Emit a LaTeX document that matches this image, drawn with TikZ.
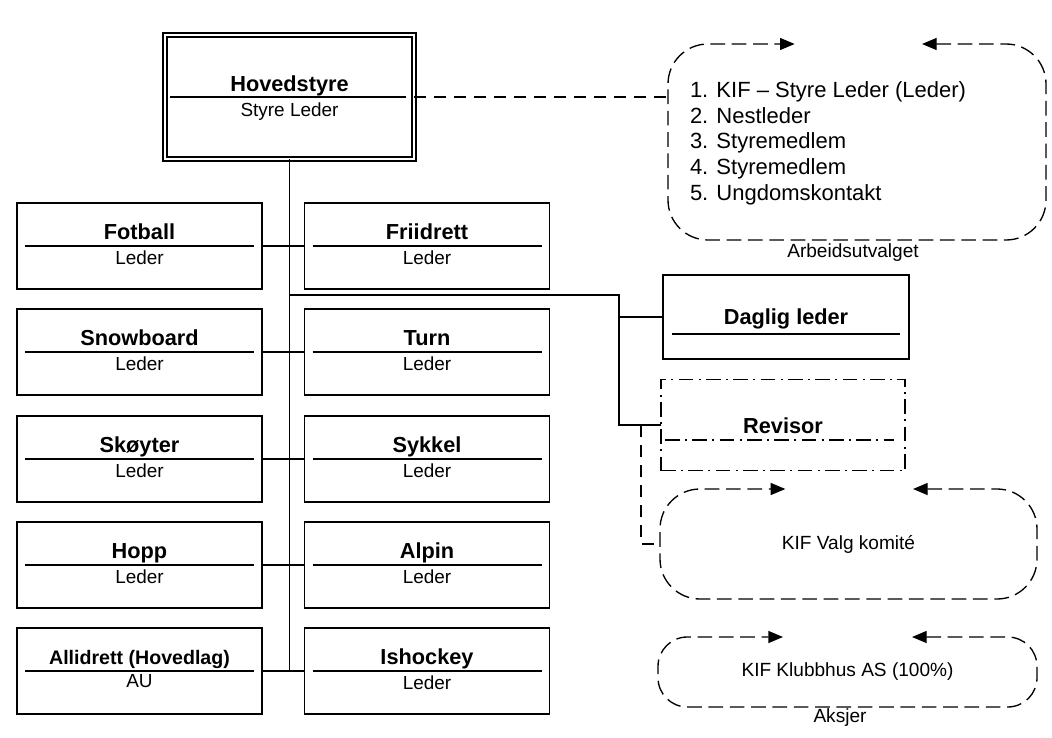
\documentclass[tikz,border=0pt]{standalone}
\usepackage{fontspec}
\setmainfont{Liberation Sans}
\usetikzlibrary{arrows.meta}

\begin{document}
\begin{tikzpicture}[x=0.75pt,y=-0.75pt,
    box/.style={draw,line width=1.3pt,minimum width=183.75pt,minimum height=64.5pt},
    head/.style={font=\fontsize{16.3}{19.5}\selectfont\bfseries,anchor=base},
    sub/.style={font=\fontsize{14.2}{17}\selectfont,anchor=base},
    plain/.style={font=\fontsize{14.3}{17}\selectfont},
    listline/.style={font=\fontsize{16.5}{19.5}\selectfont,anchor=base west},
    link/.style={line width=1.1pt},
    dashlink/.style={line width=1pt,dash pattern=on 9pt off 6pt},
    loopline/.style={line width=1pt,dash pattern=on 11pt off 5pt,
      {Triangle[length=11pt,width=9pt]}-{Triangle[length=11pt,width=9pt]}}]
        \tikzstyle{every node}+=[inner sep=0pt,outer sep=0pt]
        \useasboundingbox (0,0) rectangle (1052,738);
        \node [draw,line width=1pt,double,double distance=2pt,minimum width=186.75pt,minimum height=93pt] (hoved) at (289.5,97) {};
        \node [head] (hovedT) at ([yshift=4pt]hoved.center) {Hovedstyre};
        \node [sub] (hovedL) at ([yshift=-14.5pt]hoved.center) {Styre Leder};
        \draw [link] ([xshift=4pt]hoved.west) -- ([xshift=-6pt]hoved.east);
        \node [box] (fotball) at (139.5,246) {};
        \node [head] (fotballT) at ([yshift=5.25pt]fotball.center) {Fotball};
        \node [sub] (fotballL) at ([yshift=-13.5pt]fotball.center) {Leder};
        \draw [link] ([xshift=6pt]fotball.west) -- ([xshift=-6pt]fotball.east);
        \node [box] (snowboard) at (139.5,352) {};
        \node [head] (snowboardT) at ([yshift=5.25pt]snowboard.center) {Snowboard};
        \node [sub] (snowboardL) at ([yshift=-13.5pt]snowboard.center) {Leder};
        \draw [link] ([xshift=6pt]snowboard.west) -- ([xshift=-6pt]snowboard.east);
        \node [box] (skoyter) at (139.5,459) {};
        \node [head] (skoyterT) at ([yshift=5.25pt]skoyter.center) {Skøyter};
        \node [sub] (skoyterL) at ([yshift=-13.5pt]skoyter.center) {Leder};
        \draw [link] ([xshift=6pt]skoyter.west) -- ([xshift=-6pt]skoyter.east);
        \node [box] (hopp) at (139.5,565) {};
        \node [head] (hoppT) at ([yshift=5.25pt]hopp.center) {Hopp};
        \node [sub] (hoppL) at ([yshift=-13.5pt]hopp.center) {Leder};
        \draw [link] ([xshift=6pt]hopp.west) -- ([xshift=-6pt]hopp.east);
        \node [box] (allidrett) at (139.5,671) {};
        \node [head,font=\fontsize{14.7}{17}\selectfont\bfseries] (allidrettT) at ([yshift=5.25pt]allidrett.center) {Allidrett (Hovedlag)};
        \node [sub] (allidrettL) at ([yshift=-12pt]allidrett.center) {AU};
        \draw [link] ([xshift=6pt]allidrett.west) -- ([xshift=-6pt]allidrett.east);
        \node [box] (friidrett) at (427,246) {};
        \node [head] (friidrettT) at ([yshift=5.25pt]friidrett.center) {Friidrett};
        \node [sub] (friidrettL) at ([yshift=-13.5pt]friidrett.center) {Leder};
        \draw [link] ([xshift=6pt]friidrett.west) -- ([xshift=-6pt]friidrett.east);
        \node [box] (turn) at (427,352) {};
        \node [head] (turnT) at ([yshift=5.25pt]turn.center) {Turn};
        \node [sub] (turnL) at ([yshift=-13.5pt]turn.center) {Leder};
        \draw [link] ([xshift=6pt]turn.west) -- ([xshift=-6pt]turn.east);
        \node [box] (sykkel) at (427,459) {};
        \node [head] (sykkelT) at ([yshift=5.25pt]sykkel.center) {Sykkel};
        \node [sub] (sykkelL) at ([yshift=-13.5pt]sykkel.center) {Leder};
        \draw [link] ([xshift=6pt]sykkel.west) -- ([xshift=-6pt]sykkel.east);
        \node [box] (alpin) at (427,565) {};
        \node [head] (alpinT) at ([yshift=5.25pt]alpin.center) {Alpin};
        \node [sub] (alpinL) at ([yshift=-13.5pt]alpin.center) {Leder};
        \draw [link] ([xshift=6pt]alpin.west) -- ([xshift=-6pt]alpin.east);
        \node [box] (ishockey) at (427,671) {};
        \node [head] (ishockeyT) at ([yshift=5.25pt]ishockey.center) {Ishockey};
        \node [sub] (ishockeyL) at ([yshift=-13.5pt]ishockey.center) {Leder};
        \draw [link] ([xshift=6pt]ishockey.west) -- ([xshift=-6pt]ishockey.east);
        \draw [link] (hoved.south) -- (hoved.south |- allidrett.east);
        \draw [link] (fotball.east) -- (friidrett.west);
        \draw [link] (snowboard.east) -- (turn.west);
        \draw [link] (skoyter.east) -- (sykkel.west);
        \draw [link] (hopp.east) -- (alpin.west);
        \draw [link] (allidrett.east) -- (ishockey.west);
        \node [box,minimum width=184.5pt,minimum height=63pt] (daglig) at (786,317) {};
        \node [head] (dagligT) at ([yshift=-5.25pt]daglig.center) {Daglig leder};
        \draw [link] ([xshift=6.75pt,yshift=-12.75pt]daglig.west) -- ([xshift=-6.75pt,yshift=-12.75pt]daglig.east);
        \node [box,line width=1.2pt,dash pattern=on 11pt off 4pt on 1.5pt off 4pt,minimum width=183pt,minimum height=68.25pt] (revisor) at (783,425) {};
        \node [head] (revisorT) at ([yshift=-6pt]revisor.center) {Revisor};
        \draw [link,dash pattern=on 11pt off 4pt on 1.5pt off 4pt] ([xshift=3pt,yshift=-11.25pt]revisor.west) -- ([xshift=-8pt,yshift=-11.25pt]revisor.east);
        \coordinate (split) at (619,295);
        \draw [link] (hoved.south |- split) -- (split) -- (split |- revisor.west) -- (revisor.west);
        \draw [link] (split |- daglig.west) -- (daglig.west);
        \node [minimum width=283.5pt,minimum height=147pt] (arb) at (857,142) {};
        \draw [loopline,rounded corners=30pt] ([xshift=-93pt]arb.north east) -- (arb.north east) -- (arb.south east) -- (arb.south west) -- (arb.north west) -- ([xshift=95pt]arb.north west);
        \node [listline] (arb1) at (690,98) {1. KIF – Styre Leder (Leder)};
        \node [listline] (arb2) at (690,123.5) {2. Nestleder};
        \node [listline] (arb3) at (690,149) {3. Styremedlem};
        \node [listline] (arb4) at (690,174.5) {4. Styremedlem};
        \node [listline] (arb5) at (690,200) {5. Ungdomskontakt};
        \node [plain,anchor=base] (arbL) at (853,257) {Arbeidsutvalget};
        \draw [dashlink] (hoved.east) -- (hoved.east -| arb.west);
        \node [plain,minimum width=282.75pt,minimum height=82.5pt] (valg) at (848.5,544) {KIF Valg komité};
        \draw [loopline,rounded corners=30pt] ([xshift=-93pt]valg.north east) -- (valg.north east) -- (valg.south east) -- (valg.south west) -- (valg.north west) -- ([xshift=94pt]valg.north west);
        \draw [dashlink] ([xshift=-15pt]revisor.west) |- (valg.west);
        \node [plain,minimum width=284.25pt,minimum height=52.5pt] (klubb) at (847.5,672) {KIF Klubbhus AS (100\%)};
        \draw [loopline,rounded corners=22pt] ([xshift=-93.75pt]klubb.north east) -- (klubb.north east) -- (klubb.south east) -- (klubb.south west) -- (klubb.north west) -- ([xshift=93.75pt]klubb.north west);
        \node [plain,anchor=base] (klubbL) at (840,722) {Aksjer};
\end{tikzpicture}
\end{document}
